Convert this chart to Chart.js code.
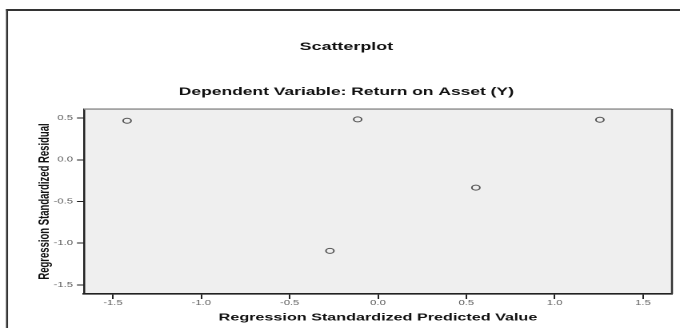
<!DOCTYPE html>
<html>
<head>
<meta charset="utf-8">
<script src="https://cdn.jsdelivr.net/npm/chart.js@4/dist/chart.umd.min.js"></script>
<style>
  html, body { margin: 0; padding: 0; background: #fff; overflow: hidden; }
  #plot { display: block; }
</style>
</head>
<body>
<!-- the drawing surface is laid out narrow and shown wide, giving the stretched SPSS export look -->
<canvas id="plot" width="425" height="328" style="width:680px;height:328px"></canvas>
<script>
// Regression diagnostics: standardized predicted value vs standardized residual
const predicted = [-1.42, -0.115, 1.256, 0.554, -0.272];
const residual  = [0.468, 0.484, 0.480, -0.334, -1.092];

const xTicks = [-1.5, -1.0, -0.5, 0.0, 0.5, 1.0, 1.5];
const yTicks = [-1.5, -1.0, -0.5, 0.0, 0.5];
const xRange = [-1.664, 1.664];
const yRange = [-1.608, 0.608];

const titleText    = 'Scatterplot';
const subtitleText = 'Dependent Variable: Return on Asset (Y)';
const xTitleText   = 'Regression Standardized Predicted Value';
const yTitleText   = 'Regression Standardized Residual';

const FONT = "'Liberation Sans', Arial, sans-serif";

// page frame, shaded plot panel and its top/right edges
const panel = {
  id: 'panel',
  beforeDraw(chart) {
    const { ctx, chartArea: a } = chart;
    ctx.save();
    ctx.fillStyle = '#ffffff';
    ctx.fillRect(0, 0, chart.width, chart.height);
    ctx.fillStyle = '#efefef';
    ctx.fillRect(a.left, a.top, a.right - a.left, a.bottom - a.top);
    ctx.strokeStyle = '#333333';
    ctx.lineWidth = 1.25;
    ctx.beginPath();
    ctx.moveTo(4.4, 9);
    ctx.lineTo(4.4, chart.height);
    ctx.stroke();
    ctx.lineWidth = 2;
    ctx.beginPath();
    ctx.moveTo(3.8, 10);
    ctx.lineTo(chart.width, 10);
    ctx.stroke();
    ctx.restore();
  },
  afterDraw(chart) {
    const { ctx, chartArea: a } = chart;
    ctx.save();
    ctx.strokeStyle = '#8a8a8a';
    ctx.lineWidth = 1.4;
    ctx.beginPath();
    ctx.moveTo(a.left, a.top);
    ctx.lineTo(a.right, a.top);
    ctx.stroke();
    ctx.strokeStyle = '#333333';
    ctx.lineWidth = 1.25;
    ctx.beginPath();
    ctx.moveTo(a.right, a.top);
    ctx.lineTo(a.right, a.bottom);
    ctx.stroke();
    ctx.restore();
  }
};

const points = predicted.map((x, i) => ({ x, y: residual[i] }));

new Chart(document.getElementById('plot'), {
  type: 'scatter',
  data: {
    datasets: [{
      data: points,
      pointStyle: 'circle',
      pointRadius: 2.5,
      pointBorderWidth: 1,
      borderColor: '#555555',
      backgroundColor: 'rgba(0,0,0,0)'
    }]
  },
  options: {
    responsive: false,
    devicePixelRatio: 2,
    animation: false,
    events: [],
    layout: { padding: { left: 13, right: 5, top: 0, bottom: 0 } },
    plugins: {
      legend: { display: false },
      tooltip: { enabled: false },
      title: {
        display: true,
        text: titleText,
        color: '#111111',
        font: { family: FONT, size: 11.2, weight: 'bold' },
        padding: { top: 40.3, bottom: 0 }
      },
      subtitle: {
        display: true,
        text: subtitleText,
        color: '#111111',
        font: { family: FONT, size: 10.9, weight: 'bold' },
        padding: { top: 31.8, bottom: 10.4 }
      }
    },
    scales: {
      x: {
        type: 'linear',
        min: xRange[0],
        max: xRange[1],
        afterBuildTicks: s => { s.ticks = xTicks.map(v => ({ value: v })); },
        afterFit: s => { s.height = 34; },
        grid: { drawOnChartArea: false, drawTicks: true, tickLength: 5, tickColor: '#222222', tickWidth: 1 },
        border: { display: true, color: '#222222', width: 1.6 },
        ticks: {
          padding: 0,
          color: '#5e5e5e',
          font: { family: FONT, size: 7 },
          callback: v => Number(v).toFixed(1)
        },
        title: {
          display: true,
          text: xTitleText,
          color: '#111111',
          font: { family: FONT, size: 10.1, weight: 'bold' },
          padding: { top: 0, bottom: 4 }
        }
      },
      y: {
        type: 'linear',
        min: yRange[0],
        max: yRange[1],
        afterBuildTicks: s => { s.ticks = yTicks.map(v => ({ value: v })); },
        afterFit: s => { s.width = 39.5; },
        grid: { drawOnChartArea: false, drawTicks: true, tickLength: 4.4, tickColor: '#222222', tickWidth: 1 },
        border: { display: true, color: '#222222', width: 1.25 },
        ticks: {
          padding: 2.5,
          color: '#5e5e5e',
          font: { family: FONT, size: 7 },
          callback: v => Number(v).toFixed(1)
        },
        title: {
          display: true,
          text: yTitleText,
          color: '#111111',
          font: { family: FONT, size: 9.5, weight: 'bold' },
          padding: { top: 9.3, bottom: 0 }
        }
      }
    }
  },
  plugins: [panel]
});
</script>
</body>
</html>
